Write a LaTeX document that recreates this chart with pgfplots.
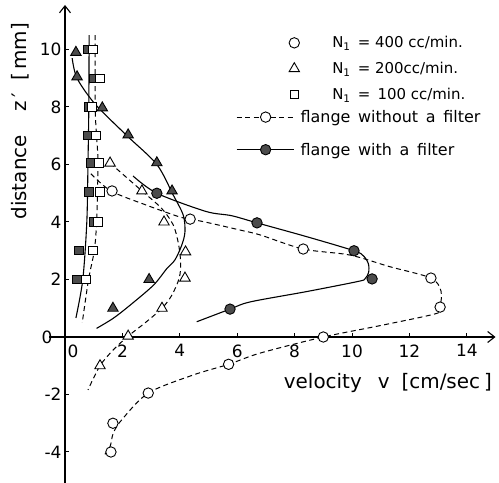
\documentclass[border=0pt]{standalone}
\usepackage{pgfplots}
\pgfplotsset{compat=1.18}
\usepackage{fontspec}
\setmainfont{DejaVu Sans}
\usetikzlibrary{arrows.meta}
\tikzset{
  dsh/.style={black, line width=1bp, dash pattern=on 5bp off 3.5bp},
  sld/.style={black, line width=1.1bp},
  ocirc/.style={only marks, mark=*, mark size=5.2bp, mark options={solid, fill=white, draw=black, line width=0.9bp}},
  fcirc/.style={only marks, mark=*, mark size=5.2bp, mark options={solid, fill=black!70, draw=black, line width=0.9bp}},
  otri/.style={only marks, mark=triangle*, mark size=6bp, mark options={solid, fill=white, draw=black, line width=0.9bp}},
  ftri/.style={only marks, mark=triangle*, mark size=6bp, mark options={solid, fill=black!70, draw=black, line width=0.9bp}},
  osq/.style={only marks, mark=square*, mark size=4.2bp, mark options={solid, fill=white, draw=black, line width=0.9bp}},
  fsq/.style={only marks, mark=square*, mark size=4.2bp, mark options={solid, fill=black!70, draw=black, line width=0.9bp}},
}
\pgfplotsset{
  common/.style={
    at={(65bp,146bp)}, anchor=origin,
    x=28.7bp, y=28.75bp,
    xmin=-0.55, xmax=15, ymin=-5.08, ymax=11.55,
    clip=false,
  }
}
\begin{document}
\begin{tikzpicture}
\useasboundingbox (0,0) rectangle (499bp,483bp);
\begin{axis}[common,
  axis lines=middle,
  axis line style={line width=1.1bp, -{Straight Barb[length=7bp,width=11bp]}},
  hide obscured x ticks=false, hide obscured y ticks=false,
  xtick={2,4,...,14}, ytick={-4,-2,2,4,6,8,10},
  extra x ticks={0}, extra y ticks={0},
  extra x tick style={xticklabel style={xshift=8bp}},
  extra y tick style={yticklabel style={xshift=-9bp}},
  tick align=inside, major tick length=4bp,
  tick style={line width=1bp, black},
  /pgf/number format/assume math mode=true,
  tick label style={font=\fontsize{17}{20}\selectfont},
  xticklabel style={yshift=-4bp},
  xlabel={velocity\hspace{16bp}v\hspace{12bp}[cm/sec\hspace{4bp}]},
  ylabel={distance\hspace{24bp}z\,′\hspace{12bp}[\,mm]},
  x label style={at={(axis cs:11.25,-1.6)}, anchor=center, font=\fontsize{20}{23}\selectfont},
  y label style={at={(axis cs:-1.55,7.5)}, anchor=center, rotate=90, font=\fontsize{20}{23}\selectfont},
  legend style={draw=none, fill=none, at={(axis cs:7.53,10.6)}, anchor=north west,
    font=\fontsize{15}{18}\selectfont, row sep=9bp},
  legend cell align=left,
  legend image code/.code={\draw[draw=none,mark repeat=2,mark phase=2] plot coordinates {(0bp,0bp) (10bp,0bp) (20bp,0bp)}; \path[draw=none] (0bp,0bp) -- (46bp,0bp);},
]
% ---- N1 = 100 (squares)
\addplot[sld, smooth, forget plot] coordinates {(0.84,10.5) (0.83,8) (0.8,6) (0.76,4) (0.62,2) (0.38,0.66)};
\addplot[dsh, smooth, forget plot] coordinates {(1.05,10.5) (1.05,8) (1.1,7) (1.15,6) (1.1,4) (1.02,3) (0.82,2) (0.6,0.49)};
% ---- N1 = 200 (triangles)
\addplot[sld, smooth, forget plot] coordinates {(0.25,9.7) (0.42,9.0) (1.05,8.1) (2.16,7.0) (3.2,6.0) (3.77,4.94) (4.12,4.24) (4.18,3.66) (4.07,3.2) (3.83,2.68) (3.54,2.37) (3.08,1.8) (2.26,1.1) (1.68,0.65) (1.1,0.3)};
\addplot[dsh, smooth, forget plot] coordinates {(1.57,6.05) (2.2,5.5) (2.68,5.08) (3.37,4.47) (3.77,3.9) (3.95,3.26) (4.03,2.6) (3.98,2.05) (3.72,1.45) (3.38,1.0) (2.8,0.5) (2.2,0.03) (1.68,-0.45) (1.22,-1.0) (0.8,-1.84)};
% ---- N1 = 400 (circles)
\addplot[sld, smooth, forget plot] coordinates {(2.37,5.6) (3.2,5.0) (4.9,4.37) (5.8,4.22) (6.69,3.97) (8.42,3.49) (10.07,3.0) (10.4,2.82) (10.57,2.55) (10.58,2.25) (10.45,2.02) (10.2,1.93) (8.42,1.58) (6.45,1.22) (5.75,0.97) (4.59,0.53)};
\addplot[dsh, smooth, forget plot] coordinates {(0.9,5.68) (1.6,5.08) (2.8,4.6) (3.95,4.19) (4.36,4.1) (4.88,4.0) (6.1,3.72) (6.8,3.55) (8.3,3.06) (9.93,2.85) (11.3,2.45) (12.75,2.05) (13.1,1.6) (13.07,1.04) (12.95,0.82) (11.0,0.4) (9.0,0) (6.8,-0.56) (5.7,-0.95) (4.47,-1.32) (2.9,-1.95) (1.97,-2.89) (1.68,-3.35) (1.57,-3.81) (1.33,-4.16)};
% ---- markers
\addplot[fsq, forget plot] coordinates {(0.8,10) (1.0,9) (0.84,8) (0.8,7) (0.9,6.05) (0.84,5.05) (1.0,4.0) (0.49,3.0) (0.42,2.0)};
\addplot[osq, forget plot] coordinates {(0.98,10) (1.22,9) (0.94,8) (1.08,7) (1.18,6.05) (1.22,5.05) (1.15,4.0) (0.98,3.0) (0.73,2.0)};
\addplot[ftri, forget plot] coordinates {(0.38,9.9) (0.42,9.05) (1.3,7.97) (2.2,7.03) (3.2,6.06) (3.73,5.08) (2.93,2.0) (1.67,1.0)};
\addplot[otri, forget plot] coordinates {(1.57,6.05) (2.68,5.08) (3.45,4.0) (4.2,2.96) (4.18,2.05) (3.38,1.0) (2.2,0.03) (1.22,-1.0)};
\addplot[fcirc, forget plot] coordinates {(3.2,5.0) (6.69,3.97) (10.07,3.0) (10.7,2.02) (5.75,0.97)};
\addplot[ocirc, forget plot] coordinates {(1.64,5.08) (4.36,4.1) (8.3,3.06) (12.75,2.05) (13.07,1.04) (9.0,0) (5.7,-0.95) (2.9,-1.95) (1.67,-3.0) (1.6,-4.0)};
% ---- legend (symbols)
\addlegendimage{ocirc}
\addlegendentry{N\textsubscript{1}\, = 400 cc/min.}
\addlegendimage{otri}
\addlegendentry{N\textsubscript{1}\, = 200cc/min.}
\addlegendimage{osq}
\addlegendentry{N\textsubscript{1}\, = \,100 cc/min.}
\end{axis}
\begin{axis}[common, hide axis,
  legend style={draw=none, fill=none, at={(axis cs:5.85,8.03)}, anchor=north west,
    font=\fontsize{16}{19}\selectfont, row sep=15bp},
  legend cell align=left,
  legend image code/.code={\draw[mark repeat=2,mark phase=2] plot coordinates {(0bp,0bp) (29bp,0bp) (57bp,0bp)}; \path[draw=none] (0bp,0bp) -- (62bp,0bp);},
]
\addlegendimage{dsh, mark=*, mark size=5.2bp, mark options={solid, fill=white, draw=black, line width=0.9bp}}
\addlegendentry{flange\, without\, a\, filter}
\addlegendimage{sld, mark=*, mark size=5.2bp, mark options={solid, fill=black!70, draw=black, line width=0.9bp}}
\addlegendentry{flange\, with\, a\, filter}
\end{axis}
\end{tikzpicture}
\end{document}
